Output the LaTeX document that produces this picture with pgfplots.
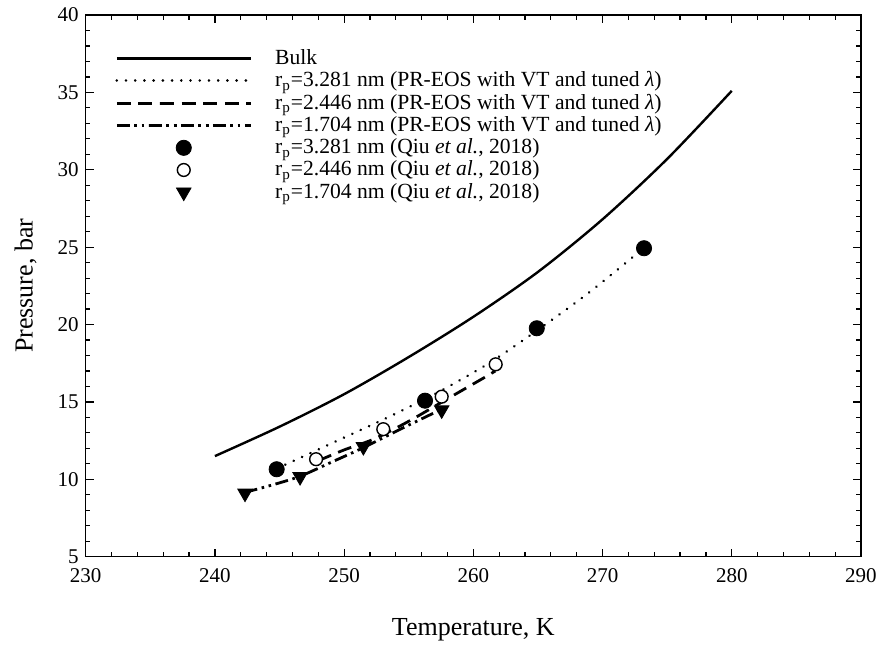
\documentclass[border=0pt]{standalone}
\usepackage{fontspec}
\setmainfont{Liberation Serif}
\usepackage{pgfplots}
\pgfplotsset{compat=1.18}
\begin{document}
\begin{tikzpicture}[x=1pt,y=1pt]
\useasboundingbox (-42.85,-43.65) rectangle (397.15,278.35);
\begin{axis}[
 at={(0,0)}, anchor=south west,
 scale only axis, width=387.65pt, height=270.85pt,
 xmin=230, xmax=290, ymin=5, ymax=40,
 xtick={230,240,...,290}, ytick={5,10,...,40},
 minor x tick num=4, minor y tick num=4,
 tick align=inside, tick pos=both,
 major tick length=4pt, minor tick length=2.3pt,
 axis line style={line width=0.75pt},
 every tick/.style={line width=0.6pt, black},
 /pgf/number format/assume math mode=true,
 tick label style={font=\fontsize{10.5}{12}\selectfont},
 xticklabel style={yshift=-2.5pt},
 xlabel={Temperature, K}, ylabel={Pressure, bar},
 label style={font=\fontsize{13}{15}\selectfont},
 xlabel style={at={(axis description cs:0.5,-0.135)}, anchor=center},
 ylabel style={at={(axis description cs:-0.0774,0.5)}, anchor=center},
 legend image code/.code={\draw[mark repeat=2,mark phase=2,#1] plot coordinates {(0pt,0pt) (33.5pt,0pt) (67pt,0pt)};},
 legend style={at={(0.03,0.952)}, anchor=north west, draw=none, fill=none,
   font=\fontsize{10.8}{11.5}\selectfont, cells={anchor=west}, column sep=9.5pt, row sep=-1.9pt},
 legend cell align=left,
]
% Bulk
\addplot[black, line width=1.2pt, smooth] coordinates {
(240,11.5) (245,13.4) (250,15.5) (255,17.9) (260,20.5) (265,23.4) (270,26.8) (275,30.7) (280,35.1)};
\addlegendentry{Bulk}
% 3.281 model
\addplot[black, line width=1.4pt, line cap=round, dash pattern=on 0.01pt off 4.6pt, smooth] coordinates {
(244.8,10.7) (247.8,11.85) (250,12.7) (253,13.85) (256.3,15.2) (258.2,16.05) (261.3,17.55) (264.9,19.6) (269,22.1) (273.2,24.95)};
\addlegendentry{r\textsubscript{p}=3.281 nm (PR-EOS with VT and tuned {\itshape λ})}
% 2.446 model
\addplot[black, line width=1.4pt, dash pattern=on 7pt off 3.8pt, smooth] coordinates {
(248.0,11.2) (250,11.9) (252.3,12.6) (255,13.75) (258.2,15.3) (260.8,16.55) (261.7,17.0)};
\addlegendentry{r\textsubscript{p}=2.446 nm (PR-EOS with VT and tuned {\itshape λ})}
% 1.704 model
\addplot[black, line width=1.4pt, dash pattern=on 6.5pt off 2.3pt on 1.3pt off 2.3pt on 1.3pt off 2.3pt, smooth] coordinates {
(242.3,9.15) (244.5,9.65) (246.6,10.2) (249,11.1) (251.5,12.05) (254.5,13.3) (257.6,14.55)};
\addlegendentry{r\textsubscript{p}=1.704 nm (PR-EOS with VT and tuned {\itshape λ})}
% data
\addplot[only marks, mark=*, mark size=3.8pt, black] coordinates {
(244.78,10.65) (256.26,15.08) (264.91,19.76) (273.21,24.93)};
\addlegendentry{r\textsubscript{p}=3.281 nm (Qiu \textit{et al.}, 2018)}
\addplot[only marks, mark=*, mark size=3.2pt, mark options={fill=white, draw=black, line width=0.7pt}] coordinates {
(247.83,11.30) (253.03,13.24) (257.55,15.34) (261.73,17.43)};
\addlegendentry{r\textsubscript{p}=2.446 nm (Qiu \textit{et al.}, 2018)}
\addplot[only marks, mark=triangle*, mark size=4.2pt, black, mark options={rotate=180}] coordinates {
(242.33,9.1) (246.59,10.17) (251.49,12.11) (257.55,14.48)};
\addlegendentry{r\textsubscript{p}=1.704 nm (Qiu \textit{et al.}, 2018)}
\end{axis}
\end{tikzpicture}
\end{document}
